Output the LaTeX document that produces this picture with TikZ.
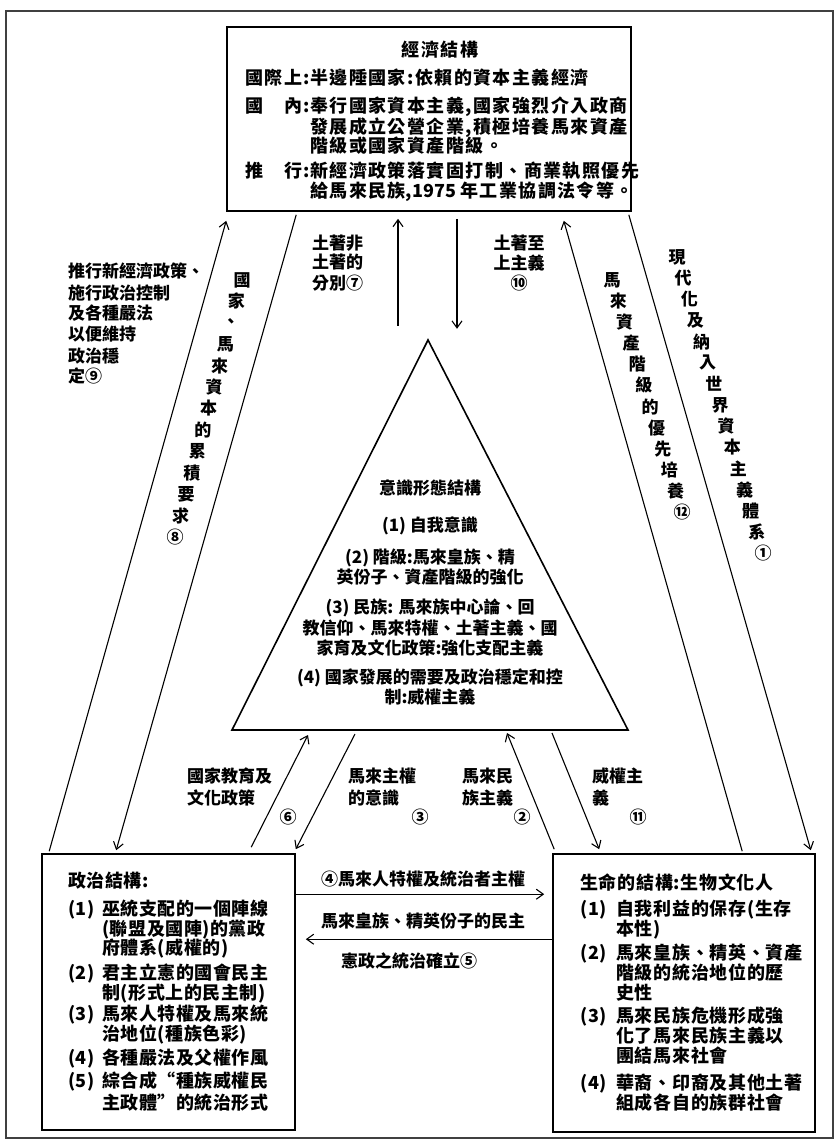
\documentclass[tikz,border=0pt]{standalone}
\usepackage{fontspec}
\setmainfont{Noto Sans CJK TC}
\newfontfamily\econfont{Noto Sans CJK TC}[LetterSpace=8]
\newfontfamily\polfont{Noto Sans CJK TC}[LetterSpace=3]
\newfontfamily\lifefont{Noto Sans CJK TC}[LetterSpace=4]
\usetikzlibrary{arrows.meta,calc}
\begin{document}
\begin{tikzpicture}[x=1pt,y=-1pt,
  box/.style={draw,line width=1.6pt,rectangle,inner sep=0pt},
  arr/.style={line width=1.1pt,-{Straight Barb[length=7pt,width=10pt,line width=1.1pt]}},
  te/.style={inner sep=0pt,font=\econfont\bfseries\fontsize{18}{20}\selectfont},
  tp/.style={inner sep=0pt,font=\polfont\bfseries\fontsize{18}{20}\selectfont},
  tr/.style={inner sep=0pt,font=\lifefont\bfseries\fontsize{18}{20}\selectfont},
  tl/.style={inner sep=0pt,font=\bfseries\fontsize{17}{20}\selectfont},
  vl/.style={inner sep=0pt,font=\bfseries\fontsize{17}{20}\selectfont},
]
\useasboundingbox (0,0) rectangle (838,1145);
\fill[white] (0,0) rectangle (838,1145);
\draw[line width=1.2pt,black!75] (6,11) rectangle (833,1138);

% boxes
\node[box,minimum width=404pt,minimum height=184pt] (econ) at (429,119) {};
\node[box,minimum width=253pt,minimum height=276pt] (pol) at (168.5,992) {};
\node[box,minimum width=262pt,minimum height=278pt] (life) at (684,993) {};
\coordinate (tA) at (428,340);
\coordinate (tL) at (232,730);
\coordinate (tR) at (628,730);
\draw[line width=1.6pt,line join=miter] (tA) -- (tL) -- (tR) -- cycle;

% economic structure text
\node[te,anchor=base] (econT) at (440,57) {經濟結構};
\foreach \t/\x/\y [count=\i] in {
  {\makebox[65pt][l]{國際上:}半邊陲國家:依賴的資本主義經濟}/245/85,
  {\makebox[65pt][l]{國\hfill 內:}奉行國家資本主義,國家強烈介入政商}/245/113,
  {發展成立公營企業,積極培養馬來資產}/310/133,
  {階級或國家資產階級。}/310/152,
  {\makebox[65pt][l]{推\hfill 行:}新經濟政策落實固打制、商業執照優先}/245/177,
  {給馬來民族{\normalfont\bfseries ,1975 }年工業協調法令等。}/310/197}
  \node[te,anchor=base west] (e\i) at (\x,\y) {\t};

% ideology triangle text
\foreach \t/\y [count=\i] in {
  {意識形態結構}/494.5,
  {(1) 自我意識}/531.5,
  {(2) 階級:馬來皇族、精}/563.5,
  {英份子、資產階級的強化}/583.5,
  {(3) 民族: 馬來族中心論、回}/613.5,
  {教信仰、馬來特權、土著主義、國}/634.5,
  {家育及文化政策:強化支配主義}/654.5,
  {(4) 國家發展的需要及政治穩定和控}/683.5,
  {制:威權主義}/703.5}
  \node[tl,anchor=base] (i\i) at (430,\y) {\t};

% political structure text
\foreach \t/\x/\y [count=\i] in {
  {政治結構:}/68/887,
  {\makebox[34pt][l]{(1)}巫統支配的一個陣線}/68/915,
  {(聯盟及國陣)的黨政}/102/935,
  {府體系(威權的)}/102/954,
  {\makebox[34pt][l]{(2)}君主立憲的國會民主}/68/979,
  {制(形式上的民主制)}/102/999,
  {\makebox[34pt][l]{(3)}馬來人特權及馬來統}/68/1020,
  {治地位(種族色彩)}/102/1040,
  {\makebox[34pt][l]{(4)}各種嚴法及父權作風}/68/1064,
  {\makebox[34pt][l]{(5)}綜合成“種族威權民}/68/1087,
  {主政體”的統治形式}/102/1109}
  \node[tp,anchor=base west] (p\i) at (\x,\y) {\t};

% life structure text
\foreach \t/\x/\y [count=\i] in {
  {生命的結構:生物文化人}/580/889,
  {\makebox[36pt][l]{(1)}自我利益的保存(生存}/580/915,
  {本性)}/616/935,
  {\makebox[36pt][l]{(2)}馬來皇族、精英、資產}/580/959,
  {階級的統治地位的歷}/616/979,
  {史性}/616/999,
  {\makebox[36pt][l]{(3)}馬來民族危機形成強}/580/1022,
  {化了馬來民族主義以}/616/1042,
  {團結馬來社會}/616/1062,
  {\makebox[36pt][l]{(4)}華裔、印裔及其他土著}/580/1089,
  {組成各自的族群社會}/616/1109}
  \node[tr,anchor=base west] (r\i) at (\x,\y) {\t};

% connectors
\draw[arr] ($(pol.north west)+(8,-2)$) -- ($(econ.south west)+(0,9)$);
\draw[arr] ($(econ.south west)+(70,3)$) -- ($(pol.north west)+(75,-3)$);
\draw[arr] ($(life.north west)+(190,-2)$) -- ($(econ.south east)+(-68,9)$);
\draw[arr] ($(econ.south east)+(-3,3)$) -- ($(life.north east)+(-5,-3)$);
\draw[arr] ($(econ.south)+(-31,114)$) -- ($(econ.south)+(-31,7)$);
\draw[arr] ($(econ.south)+(28,7)$) -- ($(econ.south)+(28,117)$);
\draw[arr] ($(pol.north west)+(210,-6)$) -- ($(tL)+(76,5)$);
\draw[arr] ($(tL)+(123,4)$) -- ($(pol.north east)+(0,-4)$);
\draw[arr] ($(life.north west)+(2,-4)$) -- ($(tR)+(-121,3)$);
\draw[arr] ($(tR)+(-76,3)$) -- ($(life.north west)+(47,-4)$);
\draw[arr] ($(pol.north east)+(0,41)$) -- ($(life.north west)+(-8,41)$);
\draw[arr] ($(life.north west)+(0,86)$) -- ($(pol.north east)+(10,86)$);

% labels
\foreach \t/\y [count=\i] in {{推行新經濟政策、}/277,{施行政治控制}/299,{及各種嚴法}/319,{以便維持}/340,{政治穩}/362,{定⑨}/382}
  \node[tl,anchor=base west] (l9-\i) at (68,\y) {\t};
\foreach \t/\y [count=\i] in {{土著非}/249,{土著的}/268,{分別⑦}/289}
  \node[tl,anchor=base west] (l7-\i) at (312,\y) {\t};
\foreach \t/\y [count=\i] in {{土著至}/249,{上主義}/269,{⑩}/289}
  \node[tl,anchor=base] (l10-\i) at (519,\y) {\t};
\node[tl,anchor=base west] (l6a) at (187,782) {國家教育及};
\node[tl,anchor=base west] (l6b) at (187,804) {文化政策};
\node[tl,anchor=base] (l6c) at (288,823) {⑥};
\node[tl,anchor=base west] (l3a) at (348,782) {馬來主權};
\node[tl,anchor=base west] (l3b) at (348,804) {的意識};
\node[tl,anchor=base] (l3c) at (420,823) {③};
\node[tl,anchor=base west] (l2a) at (462,782) {馬來民};
\node[tl,anchor=base west] (l2b) at (462,804) {族主義};
\node[tl,anchor=base] (l2c) at (522,823) {②};
\node[tl,anchor=base west] (l11a) at (592,782) {威權主};
\node[tl,anchor=base west] (l11b) at (592,804) {義};
\node[tl,anchor=base] (l11c) at (638,823) {⑪};
\node[tl,anchor=base] (l4) at (423,885) {④馬來人特權及統治者主權};
\node[tl,anchor=base] (l5a) at (423,927) {馬來皇族、精英份子的民主};
\node[tl,anchor=base] (l5b) at (409,967) {憲政之統治確立⑤};

% vertical labels
\foreach \c [count=\i from 0] in {國,家,、,馬,來,資,本,的,累,積,要,求,⑧}
  \node[vl] (v8-\i) at ({242-\i*5.583},{280+\i*21.417}) {\c};
\foreach \c [count=\i from 0] in {馬,來,資,產,階,級,的,優,先,培,養,⑫}
  \node[vl] (v12-\i) at ({612+\i*6.364},{280+\i*21.09}) {\c};
\foreach \c [count=\i from 0] in {現,代,化,及,納,入,世,界,資,本,主,義,體,系,①}
  \node[vl] (v1-\i) at ({677+\i*6.143},{257+\i*21.14}) {\c};
\end{tikzpicture}
\end{document}
